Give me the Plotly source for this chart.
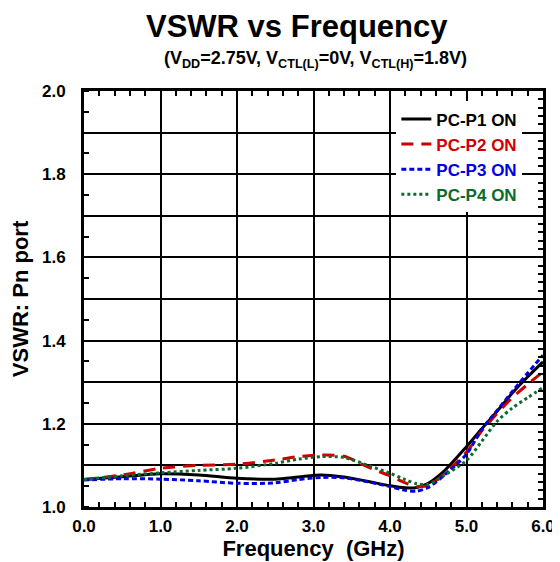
import plotly.graph_objects as go

freq = [0.0, 0.5, 1.0, 1.5, 2.0, 2.5, 2.8, 3.1, 3.4, 3.7, 4.0, 4.2, 4.35, 4.5, 4.7, 5.0, 5.2, 5.4, 5.6, 5.8, 6.0]

p1 = [1.066, 1.073, 1.080, 1.077, 1.069, 1.067, 1.072, 1.077, 1.072, 1.062, 1.051, 1.046, 1.047, 1.057, 1.085,
      1.145, 1.188, 1.230, 1.274, 1.313, 1.349]
p2 = [1.066, 1.077, 1.093, 1.100, 1.103, 1.113, 1.121, 1.125, 1.122, 1.097, 1.075, 1.058, 1.049, 1.052, 1.078,
      1.132, 1.183, 1.225, 1.263, 1.295, 1.325]
p3 = [1.065, 1.068, 1.067, 1.063, 1.057, 1.058, 1.066, 1.071, 1.070, 1.061, 1.049, 1.040, 1.038, 1.047, 1.075,
      1.127, 1.187, 1.232, 1.278, 1.322, 1.365]
p4 = [1.066, 1.075, 1.082, 1.088, 1.093, 1.105, 1.115, 1.121, 1.119, 1.101, 1.081, 1.066, 1.056, 1.055, 1.075,
      1.112, 1.158, 1.206, 1.238, 1.263, 1.287]

series_names = ["PC-P1 ON", "PC-P2 ON", "PC-P3 ON", "PC-P4 ON"]
series_values = [p1, p2, p3, p4]
colors = ["#000000", "#cc0000", "#0000e0", "#0b6b2b"]
dashes = ["solid", "12px,8px", "5px,3px", "3px,3px"]

y_tickvals = [1.0, 1.1, 1.2, 1.3, 1.4, 1.5, 1.6, 1.7, 1.8, 1.9, 2.0]
y_ticktext = ["1.0", "", "1.2", "", "1.4", "", "1.6", "", "1.8", "", "2.0"]

FONT = "Liberation Sans, Arial, sans-serif"

# page body has an 8px margin: figure is drawn at (8, 8) in the window
OFF = 8
W, H = 560 - OFF, 562 - OFF
L, R, T, B = 84 - OFF, 17, 91 - OFF, 55
plot_h = H - T - B
plot_w = W - L - R

fig = go.Figure()
for name, vals, c, d in zip(series_names, series_values, colors, dashes):
    fig.add_trace(go.Scatter(
        x=freq, y=vals, mode="lines",
        name=f'<span style="color:{c}">{name}</span>',
        line=dict(color=c, width=3, dash=d, shape="spline", smoothing=0.8),
    ))

# invisible trace for right-side axis
fig.add_trace(go.Scatter(x=[0, 6], y=[1, 2], yaxis="y2", mode="lines",
                         line=dict(width=0), showlegend=False, hoverinfo="skip", opacity=0))

fig.update_layout(
    width=W, height=H,
    margin=dict(l=L, r=R, t=T, b=B, autoexpand=False),
    paper_bgcolor="white", plot_bgcolor="white",
    font=dict(family=FONT, color="black", size=16, weight="bold"),
    showlegend=True,
    legend=dict(x=0.955, y=0.975, xanchor="right", yanchor="top",
                bgcolor="white", borderwidth=0,
                font=dict(family=FONT, size=17, weight="bold"),
                tracegroupgap=0),
    xaxis=dict(range=[0, 6], dtick=1, tick0=0, tickformat=".1f", automargin=False,
               showgrid=True, gridcolor="black", gridwidth=2,
               showline=True, linecolor="black", linewidth=3, mirror="ticks",
               ticks="", zeroline=False, ticklabelstandoff=2,
               tickfont=dict(family=FONT, size=17, weight="bold"),
               minor=dict(dtick=0.2, ticks="inside", ticklen=5, tickwidth=2, tickcolor="black", showgrid=False),
               title=dict(text="Frequency  (GHz)", font=dict(family=FONT, size=22, weight="bold"), standoff=2)),
    yaxis=dict(range=[1, 2], tickmode="array", tickvals=y_tickvals, ticktext=y_ticktext, automargin=False,
               showgrid=True, gridcolor="black", gridwidth=2,
               showline=True, linecolor="black", linewidth=3, mirror=True,
               ticks="", zeroline=False, ticklabelstandoff=12,
               tickfont=dict(family=FONT, size=17, weight="bold"),
               minor=dict(dtick=0.05, tick0=1.0, ticks="inside", ticklen=5, tickwidth=2, tickcolor="black", showgrid=False),
               title=dict(text="VSWR: Pn port", font=dict(family=FONT, size=22, weight="bold"), standoff=12)),
    yaxis2=dict(range=[1, 2], overlaying="y", side="right", anchor="x", automargin=False,
                showgrid=False, showticklabels=False, zeroline=False,
                ticks="inside", ticklen=5, tickwidth=2, tickcolor="black", dtick=0.1, tick0=1.0,
                minor=dict(dtick=0.02, tick0=1.0, ticks="inside", ticklen=5, tickwidth=2, tickcolor="black", showgrid=False)),
    annotations=[
        dict(text="VSWR vs Frequency", x=(297 - 84) / plot_w, y=1 + (91 - 26) / plot_h,
             xref="paper", yref="paper", xanchor="center", yanchor="middle",
             showarrow=False, font=dict(family=FONT, size=31, weight="bold")),
        dict(text="(V<sub>DD</sub>=2.75V, V<sub>CTL(L)</sub>=0V, V<sub>CTL(H)</sub>=1.8V)",
             x=(315 - 84) / plot_w, y=1 + (91 - 60) / plot_h,
             xref="paper", yref="paper", xanchor="center", yanchor="middle", showarrow=False,
             font=dict(family=FONT, size=18, weight="bold")),
    ],
)

fig.write_html("out.html")
